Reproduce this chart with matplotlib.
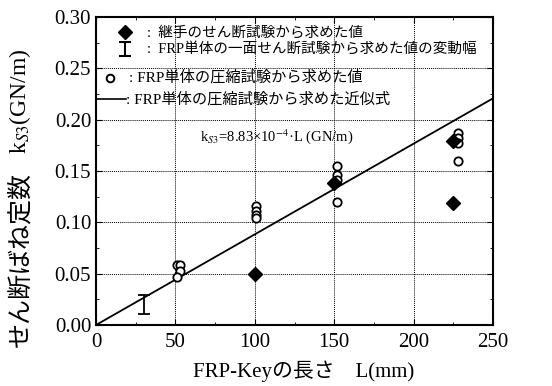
import matplotlib
matplotlib.use("Agg")
import matplotlib.pyplot as plt
from matplotlib.ticker import MultipleLocator, FormatStrFormatter

plt.rcParams["font.family"] = ["Liberation Serif", "Noto Sans CJK JP"]
plt.rcParams["mathtext.fontset"] = "stix"

# 継手のせん断試験 (diamonds)
joint_L = [100, 150, 225, 225]
joint_k = [0.050, 0.138, 0.179, 0.119]

# FRP単体の一面せん断試験 変動幅
shear_L = [30]
shear_lo = [0.011]
shear_hi = [0.029]

# FRP単体の圧縮試験 (open circles)
comp_L = [51, 53, 53, 51, 101, 101, 101, 101, 152, 152, 152, 152, 228, 228, 228, 228]
comp_k = [0.058, 0.058, 0.053, 0.047, 0.116, 0.111, 0.107, 0.104,
          0.155, 0.146, 0.141, 0.120, 0.187, 0.182, 0.177, 0.160]

# 近似式 k = 8.83e-4 * L
fit_coef = 8.83e-4
fit_L = [0, 250]

legend_lines = [
    "継手のせん断試験から求めた値",
    "FRP単体の一面せん断試験から求めた値の変動幅",
    "FRP単体の圧縮試験から求めた値",
    "FRP単体の圧縮試験から求めた近似式",
]

W, H = 552, 386
fig = plt.figure(figsize=(W / 100, H / 100), dpi=100)
ax = fig.add_axes([96 / W, 1 - 325 / H, 397 / W, 308 / H])

ax.plot(fit_L, [fit_coef * v for v in fit_L], color="black", lw=1.3, zorder=3)
ax.plot(comp_L, comp_k, "o", mfc="white", mec="black", mew=1.3, ms=6, zorder=4)
ax.plot(joint_L, joint_k, "D", color="black", ms=7, zorder=5)
for x, lo, hi in zip(shear_L, shear_lo, shear_hi):
    ax.errorbar([x], [(lo + hi) / 2], yerr=[[(hi - lo) / 2]], fmt="none",
                ecolor="black", elinewidth=1.3, capsize=4, capthick=1.3, zorder=4)

ax.set_xlim(0, 250)
ax.set_ylim(0, 0.30)
ax.xaxis.set_major_locator(MultipleLocator(50))
ax.xaxis.set_minor_locator(MultipleLocator(25))
ax.yaxis.set_major_locator(MultipleLocator(0.05))
ax.yaxis.set_minor_locator(MultipleLocator(0.025))
ax.yaxis.set_major_formatter(FormatStrFormatter("%.2f"))
ax.tick_params(which="both", direction="in", top=True, right=True, labelsize=15)
ax.tick_params(which="major", length=4)
ax.tick_params(which="minor", length=2.5)
ax.tick_params(axis="x", pad=6)
ax.grid(True, which="major", linestyle=(0, (1, 1)), color="black", lw=0.7)
for s in ax.spines.values():
    s.set_linewidth(1.5)

ax.set_xlabel("FRP-Keyの長さ　L(mm)", fontsize=15, va="center")
ax.xaxis.set_label_coords((304 - 96) / 397, -(371 - 325) / 308)

# y label split so the CJK part falls back properly outside mathtext
fig.text(20 / W, 1 - 347 / H, "せん断ばね定数", rotation=90, fontsize=18,
         ha="center", va="bottom", family=["Noto Sans CJK JP"])
fig.text(20 / W, 1 - 154 / H, "k$_{S3}$(GN/m)", rotation=90, fontsize=17,
         ha="center", va="bottom")

# legend drawn as text in the upper left
ax.plot([18], [0.285], "D", color="black", ms=7, clip_on=False)
ax.errorbar([18], [0.269], yerr=[[0.007]], fmt="none", ecolor="black",
            elinewidth=1.5, capsize=4, capthick=1.5)
ax.plot([9], [0.241], "o", mfc="white", mec="black", mew=1.4, ms=5.5)
ax.plot([0, 19], [0.220, 0.220], color="black", lw=1.2)
ax.text(32, 0.285, ":  " + legend_lines[0], fontsize=10.5, va="center")
ax.text(32, 0.269, ":  " + legend_lines[1], fontsize=10.5, va="center")
ax.text(21, 0.241, ": " + legend_lines[2], fontsize=11, va="center")
ax.text(19, 0.220, ": " + legend_lines[3], fontsize=11, va="center")
ax.text(114, 0.184, "k$_{S3}$=8.83×10$^{-4}$·L (GN/m)", fontsize=10.5,
        ha="center", va="center")

fig.savefig("out.png", dpi=100)
